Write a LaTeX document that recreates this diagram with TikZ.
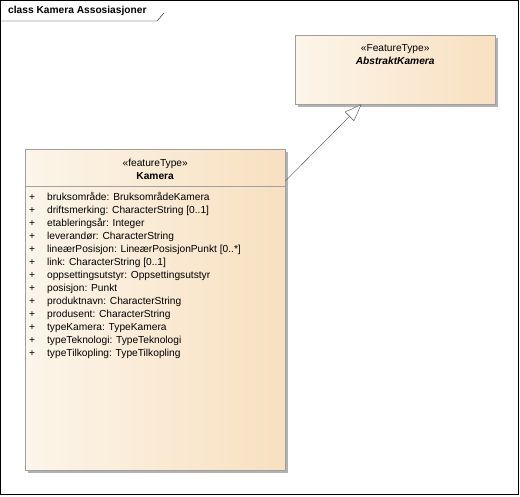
\documentclass[tikz,border=0pt]{standalone}
\usepackage{fontspec}
\setmainfont{Liberation Sans}
\usetikzlibrary{positioning,arrows.meta,shadows}

\definecolor{boxleft}{RGB}{252,245,234}
\definecolor{boxright}{RGB}{248,224,192}
\definecolor{boxline}{RGB}{160,160,160}
\definecolor{boxshadow}{RGB}{178,178,178}

\newcommand{\umlfont}{\fontsize{10.2}{13}\selectfont}

\tikzstyle{classbox}=[rectangle,draw=boxline,left color=boxleft,right color=boxright,inner sep=0pt,anchor=north west,general shadow={fill=boxshadow,shadow xshift=3pt,shadow yshift=-3pt}]
\tikzstyle{header}=[font=\umlfont,align=center,inner sep=0pt,anchor=north]
\tikzstyle{attrs}=[font=\umlfont,inner sep=0pt,anchor=north west]
\tikzstyle{gen}=[-{Triangle[open,length=17pt,width=13pt,fill=white]},draw=black!70,thin]

\begin{document}
\begin{tikzpicture}[x=1pt,y=-1pt]
        \useasboundingbox (0,0) rectangle (520,496);

        % diagram frame
        \draw[line width=1.2pt] (0.6,0.6) rectangle (518.6,494.6);
        \draw[thin] (0,21) -- (157,21) -- (164,13);
        \node[font=\umlfont\bfseries,inner sep=0pt,anchor=west] (title) at (8,11) {class Kamera Assosiasjoner};

        % classes
        \node[classbox,minimum width=200pt,minimum height=69pt] (abstrakt) at (295,35) {};
        \node[header] (abstrakthead) [below=9pt of abstrakt.north] {«FeatureType»\\\textbf{\textit{AbstraktKamera}}};

        \node[classbox,minimum width=260pt,minimum height=321pt] (kamera) at (25,149) {};
        \node[header] (kamerahead) [below=10pt of kamera.north] {«featureType»\\\textbf{Kamera}};
        \draw[boxline] ([yshift=-37pt]kamera.north west) -- ([yshift=-37pt]kamera.north east);

        \node[attrs] (kameraattrs) at (29,191) {%
         \begin{tabular}{@{}l@{\hspace{12pt}}l@{}}
          + & bruksområde: BruksområdeKamera\\
          + & driftsmerking: CharacterString [0..1]\\
          + & etableringsår: Integer\\
          + & leverandør: CharacterString\\
          + & lineærPosisjon: LineærPosisjonPunkt [0..*]\\
          + & link: CharacterString [0..1]\\
          + & oppsettingsutstyr: Oppsettingsutstyr\\
          + & posisjon: Punkt\\
          + & produktnavn: CharacterString\\
          + & produsent: CharacterString\\
          + & typeKamera: TypeKamera\\
          + & typeTeknologi: TypeTeknologi\\
          + & typeTilkopling: TypeTilkopling
         \end{tabular}};

        % generalization
        \draw[gen] ([yshift=-32pt]kamera.north east) -- ([xshift=-134pt]abstrakt.south east);
\end{tikzpicture}
\end{document}
